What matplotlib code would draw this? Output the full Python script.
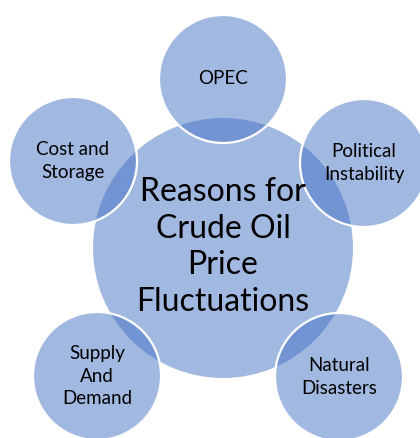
import matplotlib.pyplot as plt
from matplotlib.patches import Circle

# texts
center_label = "Reasons for\nCrude Oil\nPrice\nFluctuations"
outer_labels = ["OPEC", "Political\nInstability", "Natural\nDisasters",
                "Supply\nAnd\nDemand", "Cost and\nStorage"]

# layout (pixels, y down)
center_xy = (223, 248)
center_r = 130
outer_xy = [(223, 79), (364, 163), (339, 377), (97, 376), (73, 161)]
outer_r = 64

base = "#4472C4"

plt.rcParams['font.family'] = ['Lato', 'DejaVu Sans']
fig = plt.figure(figsize=(4.2, 4.38), dpi=100)
ax = fig.add_axes([0, 0, 1, 1])
ax.set_xlim(0, 420)
ax.set_ylim(438, 0)
ax.set_aspect('equal')
ax.axis('off')

# big circle in the middle
ax.add_patch(Circle(center_xy, center_r, facecolor=base, alpha=0.5,
                    edgecolor='none', zorder=1))
ax.text(center_xy[0], center_xy[1] - 1, center_label, ha='center', va='center',
        fontsize=23, linespacing=1.27, color='black', zorder=5)

# the five reasons
for (x, y), lab in zip(outer_xy, outer_labels):
    ax.add_patch(Circle((x, y), outer_r, facecolor=(0.267, 0.447, 0.769, 0.5),
                        edgecolor='white', linewidth=1.6, zorder=2))
    ax.text(x, y, lab, ha='center', va='center', fontsize=13.5,
            linespacing=1.4, color='black', zorder=5)

fig.savefig("out.png", dpi=100)
